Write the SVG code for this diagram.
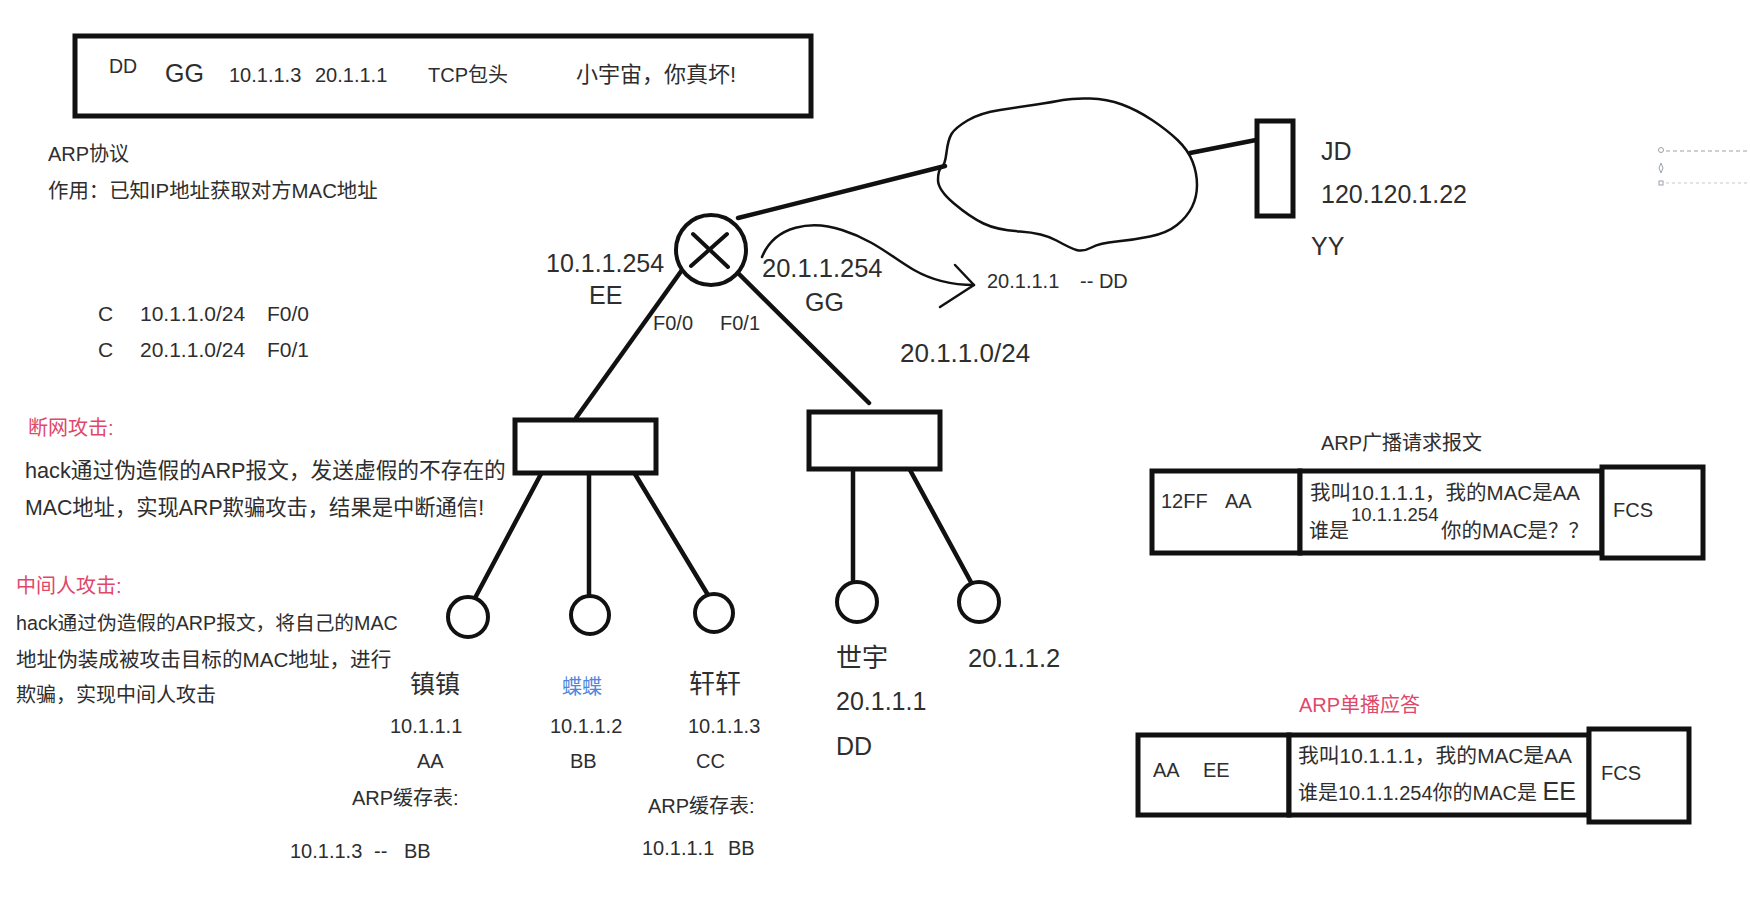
<svg xmlns="http://www.w3.org/2000/svg" width="1750" height="903" viewBox="0 0 1750 903">
<style>
text{font-family:"Liberation Sans","Noto Sans CJK SC",sans-serif;fill:#2e2e2e;font-size:20px}
.big{font-size:25px}
.mid{font-size:20px}
.red{fill:#e0486a}
.blue{fill:#4f86dc}
.box{fill:#fff;stroke:#111;stroke-width:5}
.ln{fill:none;stroke:#111;stroke-width:4.5;stroke-linecap:round}
.host{fill:#fff;stroke:#111;stroke-width:4}
.thin{fill:none;stroke:#111;stroke-width:2.5;stroke-linecap:round;stroke-linejoin:round}
</style>
<rect width="1750" height="903" fill="#fff"/>

<g id="frame-top">
<rect class="box" x="75" y="36" width="736" height="80"/>
<text x="109" y="73" style="font-size:19.5px">DD</text>
<text x="165" y="82" style="font-size:25px">GG</text>
<text x="229" y="82">10.1.1.3</text>
<text x="315" y="82">20.1.1.1</text>
<text x="428" y="82">TCP包头</text>
<text x="576" y="82" style="font-size:22px">小宇宙，你真坏!</text>
</g>

<g id="notes-left">
<text x="48" y="161">ARP协议</text>
<text x="48" y="198" style="font-size:20.4px">作用：已知IP地址获取对方MAC地址</text>
<text x="98" y="321" style="font-size:21px">C</text>
<text x="140" y="321" style="font-size:21px">10.1.1.0/24</text>
<text x="267" y="321" style="font-size:21px">F0/0</text>
<text x="98" y="357" style="font-size:21px">C</text>
<text x="140" y="357" style="font-size:21px">20.1.1.0/24</text>
<text x="267" y="357" style="font-size:21px">F0/1</text>
<text class="red" x="28" y="435">断网攻击:</text>
<text x="25" y="478" style="font-size:21.7px">hack通过伪造假的ARP报文，发送虚假的不存在的</text>
<text x="25" y="515" style="font-size:21.3px">MAC地址，实现ARP欺骗攻击，结果是中断通信!</text>
<text class="red" x="16" y="593">中间人攻击:</text>
<text x="16" y="630" style="font-size:19.7px">hack通过伪造假的ARP报文，将自己的MAC</text>
<text x="16" y="667" style="font-size:20.6px">地址伪装成被攻击目标的MAC地址，进行</text>
<text x="16" y="702">欺骗，实现中间人攻击</text>
</g>

<g id="connectors">
<line class="ln" x1="738" y1="218" x2="945" y2="166"/>
<line class="ln" x1="1190" y1="153" x2="1256" y2="140"/>
<line class="ln" x1="682" y1="270" x2="576" y2="418"/>
<line class="ln" x1="738" y1="273" x2="869" y2="403"/>
<line class="ln" x1="541" y1="474" x2="475" y2="598"/>
<line class="ln" x1="589" y1="474" x2="589" y2="596"/>
<line class="ln" x1="635" y1="474" x2="708" y2="595"/>
<line class="ln" x1="853" y1="470" x2="853" y2="583"/>
<line class="ln" x1="910" y1="470" x2="972" y2="584"/>
<path class="thin" d="M762,257 C775,225 812,220 842,230 C874,240 893,258 914,270 C935,282 955,285 974,285"/>
<path class="thin" d="M955,265 L974,285 L940,307"/>
</g>

<g id="router">
<circle cx="711" cy="250" r="35" fill="#fff" stroke="#111" stroke-width="4"/>
<line class="thin" style="stroke-width:4" x1="693" y1="234" x2="728" y2="267"/>
<line class="thin" style="stroke-width:4" x1="727" y1="234" x2="691" y2="266"/>
<text class="big" x="546" y="272">10.1.1.254</text>
<text class="big" x="589" y="304">EE</text>
<text class="mid" x="653" y="330">F0/0</text>
<text class="mid" x="720" y="330">F0/1</text>
<text class="big" x="762" y="277" style="font-size:25.5px">20.1.1.254</text>
<text class="big" x="805" y="311">GG</text>
<text x="987" y="288">20.1.1.1</text>
<text x="1080" y="288">-- DD</text>
<text class="big" x="900" y="362" style="font-size:26px">20.1.1.0/24</text>
</g>

<g id="cloud">
<path class="thin" d="M941.5,167.5 Q945,165 946.5,152.5 Q948,140 951.5,134 Q955,128 967.5,120.5 Q980,113 1000,110 Q1020,107 1036.5,104.5 Q1053,102 1063,100 Q1073,98 1090,98.5 Q1107,99 1122,104.5 Q1137,110 1152,120 Q1167,130 1177.5,140 Q1188,150 1192.5,161.5 Q1197,173 1197,185 Q1197,197 1192,207 Q1187,217 1177,225 Q1167,233 1150,236.5 Q1133,240 1116.5,241.5 Q1100,243 1091.5,247.5 Q1083,252 1076.5,250 Q1070,248 1056.5,240.5 Q1043,233 1020,231.5 Q997,230 983.5,223.5 Q970,217 954,203.5 Q938,190 938,180 Q938,170 941.5,167.5 Z"/>
</g>

<g id="server-jd">
<rect class="box" x="1257" y="121" width="36" height="95"/>
<text class="big" x="1321" y="160">JD</text>
<text class="big" x="1321" y="203">120.120.1.22</text>
<text class="big" x="1311" y="255">YY</text>
</g>

<g id="selection-marks">
<line x1="1666" y1="151" x2="1750" y2="151" stroke="#9aa0a8" stroke-width="1.2" stroke-dasharray="4 3"/>
<line x1="1666" y1="183" x2="1750" y2="183" stroke="#c3c8ce" stroke-width="1.2" stroke-dasharray="3 3"/>
<circle cx="1661" cy="150" r="2.5" fill="#fff" stroke="#9aa0a8" stroke-width="1"/>
<path d="M1661,163 L1663,168 L1661,173 L1659,168 Z" fill="#fff" stroke="#9aa0a8" stroke-width="1"/>
<rect x="1659" y="181" width="4" height="4" fill="#fff" stroke="#9aa0a8" stroke-width="1"/>
</g>

<g id="switch-left">
<rect class="box" x="515" y="420" width="141" height="53"/>
</g>
<g id="switch-right">
<rect class="box" x="809" y="412" width="131" height="57"/>
</g>

<g id="host-zhen">
<circle class="host" cx="468" cy="617" r="20"/>
<text x="410" y="693" style="font-size:25px">镇镇</text>
<text x="390" y="733">10.1.1.1</text>
<text x="417" y="768">AA</text>
<text x="352" y="805">ARP缓存表:</text>
<text x="290" y="858">10.1.1.3</text>
<text x="374" y="858">--</text>
<text x="404" y="858">BB</text>
</g>
<g id="host-die">
<circle class="host" cx="590" cy="615" r="19"/>
<text class="blue" x="562" y="694">蝶蝶</text>
<text x="550" y="733">10.1.1.2</text>
<text x="570" y="768">BB</text>
</g>
<g id="host-xuan">
<circle class="host" cx="714" cy="613" r="19"/>
<text x="689" y="693" style="font-size:26px">轩轩</text>
<text x="688" y="733">10.1.1.3</text>
<text x="696" y="768">CC</text>
<text x="648" y="813">ARP缓存表:</text>
<text x="642" y="855">10.1.1.1</text>
<text x="728" y="855">BB</text>
</g>
<g id="host-shiyu">
<circle class="host" cx="857" cy="602" r="20"/>
<text x="836" y="667" style="font-size:26px">世宇</text>
<text class="big" x="836" y="710">20.1.1.1</text>
<text class="big" x="836" y="755">DD</text>
</g>
<g id="host-20-1-1-2">
<circle class="host" cx="979" cy="602" r="20"/>
<text class="big" x="968" y="667" style="font-size:25.5px">20.1.1.2</text>
</g>

<g id="arp-request">
<text x="1321" y="450">ARP广播请求报文</text>
<rect class="box" x="1152" y="471" width="148" height="82"/>
<rect class="box" x="1300" y="471" width="302" height="82"/>
<rect class="box" x="1602" y="467" width="101" height="91"/>
<text x="1161" y="508">12FF</text>
<text x="1225" y="508">AA</text>
<text x="1310" y="500" style="font-size:20.5px">我叫10.1.1.1，我的MAC是AA</text>
<text x="1309" y="538">谁是</text>
<text x="1351" y="521" style="font-size:18.5px">10.1.1.254</text>
<text x="1441" y="538" style="font-size:20.5px">你的MAC是？？</text>
<text x="1613" y="517">FCS</text>
</g>

<g id="arp-reply">
<text class="red" x="1299" y="712">ARP单播应答</text>
<rect class="box" x="1138" y="735" width="151" height="80"/>
<rect class="box" x="1289" y="735" width="300" height="80"/>
<rect class="box" x="1589" y="729" width="100" height="93"/>
<text x="1153" y="777">AA</text>
<text x="1203" y="777">EE</text>
<text x="1298" y="763" style="font-size:20.8px">我叫10.1.1.1，我的MAC是AA</text>
<text x="1298" y="800">谁是10.1.1.254你的MAC是 <tspan style="font-size:25px">EE</tspan></text>
<text x="1601" y="780">FCS</text>
</g>
</svg>
